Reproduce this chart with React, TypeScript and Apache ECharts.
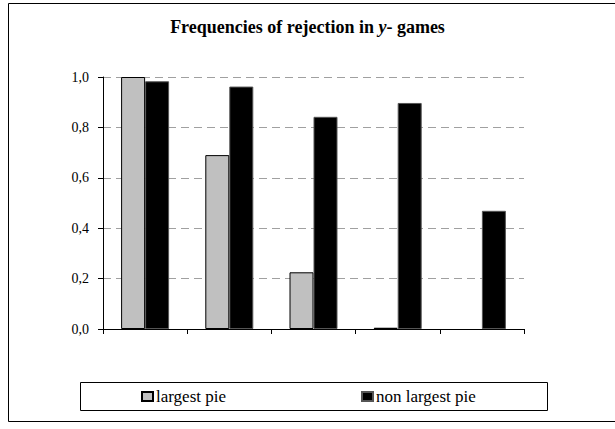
import React, { useEffect, useRef } from "react";
import * as echarts from "echarts";

const categories = ["1", "2", "3", "4", "5"];
const largestPie: (number | null)[] = [1.0, 0.69, 0.225, 0.005, null];
const nonLargestPie = [0.983, 0.962, 0.842, 0.897, 0.469];
const yTicks = [0, 0.2, 0.4, 0.6, 0.8, 1.0];

const FONT = "'Liberation Serif', 'Times New Roman', serif";

export default function App() {
  const ref = useRef<HTMLDivElement>(null);
  useEffect(() => {
    const chart = echarts.init(ref.current!, undefined, { renderer: "svg" });
    const legendText = { fontFamily: FONT, fontSize: 17, color: "#000", padding: [0, 0, 0, -2] };
    chart.setOption({
      animation: false,
      backgroundColor: "#fff",
      title: {
        text: "{b|Frequencies of rejection in }{i|y}{b|- games}",
        left: "center",
        top: 18,
        padding: 0,
        textStyle: {
          rich: {
            b: { fontFamily: FONT, fontWeight: "bold", fontSize: 18, color: "#000" },
            i: { fontFamily: FONT, fontStyle: "italic", fontSize: 18, color: "#000" },
          },
        },
      },
      grid: { left: 103, right: 91, top: 77, bottom: 100, containLabel: false },
      xAxis: {
        type: "category",
        data: categories,
        axisLine: { lineStyle: { color: "#000", width: 1 } },
        axisTick: { show: true, alignWithLabel: false, length: 5, lineStyle: { color: "#000" } },
        axisLabel: { show: false },
        splitLine: { show: false },
      },
      yAxis: {
        type: "value",
        min: 0,
        max: 1,
        interval: 0.2,
        axisLine: { show: true, lineStyle: { color: "#000", width: 1 } },
        axisTick: { show: true, length: 5, lineStyle: { color: "#000" } },
        axisLabel: {
          fontFamily: FONT,
          fontSize: 14,
          color: "#000",
          margin: 14,
          formatter: (v: number) =>
            yTicks.includes(Math.round(v * 10) / 10) ? v.toFixed(1).replace(".", ",") : "",
        },
        splitLine: {
          show: true,
          lineStyle: { color: "#a0a0a0", type: [8, 5], width: 1 },
        },
      },
      legend: [
        {
          data: ["largest pie"],
          left: 141,
          top: 388,
          padding: 0,
          icon: "rect",
          itemWidth: 11,
          itemHeight: 9,
          itemGap: 0,
          textStyle: legendText,
        },
        {
          data: ["non largest pie"],
          left: 361,
          top: 388,
          padding: 0,
          icon: "rect",
          itemWidth: 11,
          itemHeight: 9,
          itemGap: 0,
          textStyle: legendText,
        },
      ],
      graphic: [
        {
          type: "rect",
          shape: { x: 8.5, y: 3.5, width: 640, height: 418 },
          style: { fill: "none", stroke: "#000", lineWidth: 1 },
          silent: true,
        },
        {
          type: "rect",
          shape: { x: 80.5, y: 382.5, width: 467, height: 28 },
          style: { fill: "none", stroke: "#000", lineWidth: 1 },
          silent: true,
        },
      ],
      series: [
        {
          name: "largest pie",
          type: "bar",
          data: largestPie,
          barWidth: 24,
          barGap: "0%",
          itemStyle: { color: "#c0c0c0", borderColor: "#000", borderWidth: 1 },
        },
        {
          name: "non largest pie",
          type: "bar",
          data: nonLargestPie,
          barWidth: 24,
          barGap: "0%",
          itemStyle: { color: "#000", borderColor: "#555", borderWidth: 1 },
        },
      ],
    });
    return () => chart.dispose();
  }, []);
  return (
    <div
      ref={ref}
      style={{ position: "fixed", left: 0, top: 0, width: 615, height: 429 }}
    />
  );
}
